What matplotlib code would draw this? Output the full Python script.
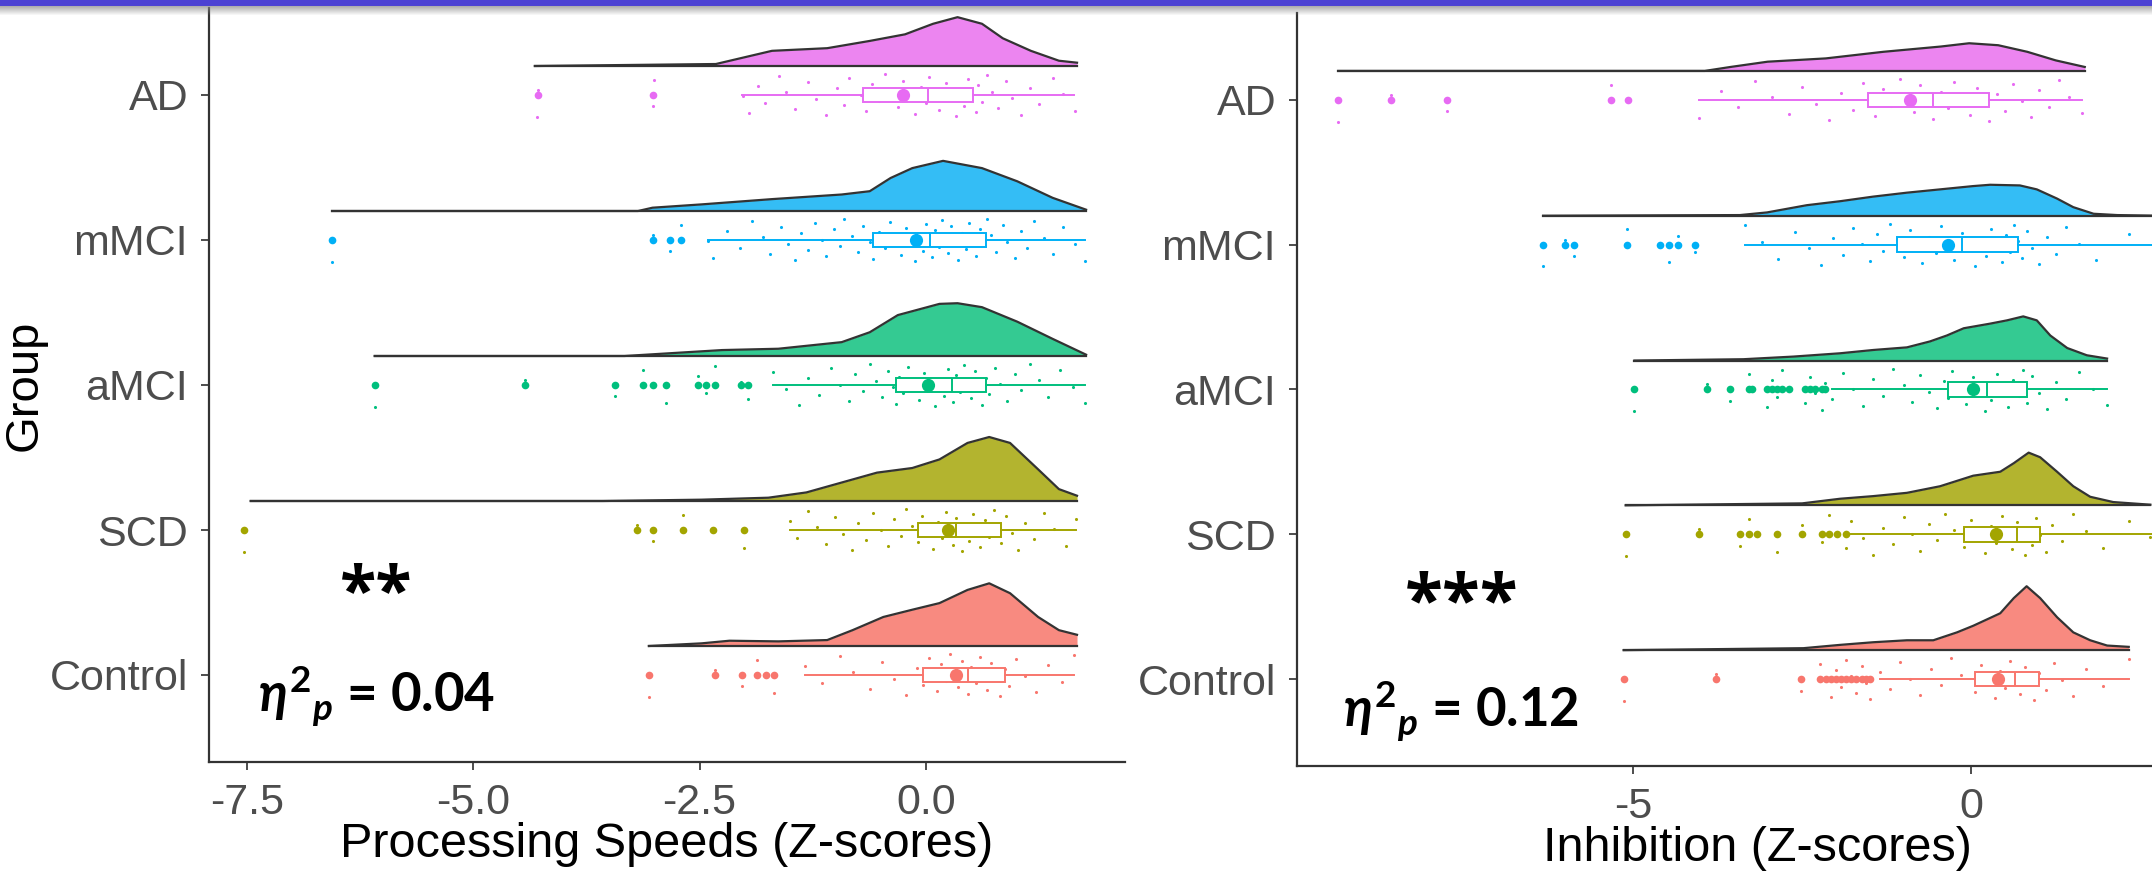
import matplotlib
matplotlib.use("Agg")
import matplotlib.pyplot as plt
import numpy as np

plt.rcParams['font.family'] = ['Liberation Sans', 'DejaVu Sans']
plt.rcParams['mathtext.fontset'] = 'custom'
plt.rcParams['mathtext.it'] = 'Lato:italic:bold'
plt.rcParams['mathtext.rm'] = 'Lato:bold'
plt.rcParams['mathtext.bf'] = 'Lato:bold'

groups = ['Control', 'SCD', 'aMCI', 'mMCI', 'AD']
colors = {'Control': '#F8766D', 'SCD': '#A3A500', 'aMCI': '#00BF7D',
          'mMCI': '#00B0F6', 'AD': '#E76BF3'}
fills = {'Control': '#F88A80', 'SCD': '#B3B42F', 'aMCI': '#34CA92',
         'mMCI': '#34BDF5', 'AD': '#EC85F0'}

# ---------------- Processing speed ----------------
ps_dens_x = {
    'AD': [-4.32, -2.32, -1.70, -1.09, -0.62, -0.23, 0.08, 0.35, 0.62, 0.85, 1.16, 1.47, 1.67],
    'mMCI': [-6.56, -3.18, -3.02, -2.48, -1.70, -0.93, -0.62, -0.39, -0.15, 0.19, 0.62, 1.01, 1.40, 1.77],
    'aMCI': [-6.09, -3.33, -2.25, -1.63, -0.93, -0.62, -0.31, 0.15, 0.35, 0.62, 1.01, 1.40, 1.77],
    'SCD': [-7.46, -3.57, -2.48, -1.74, -1.32, -0.93, -0.54, -0.15, 0.15, 0.46, 0.70, 0.93, 1.24, 1.47, 1.67],
    'Control': [-3.06, -2.48, -2.17, -1.63, -1.09, -0.81, -0.47, -0.15, 0.15, 0.46, 0.70, 0.93, 1.24, 1.47, 1.67],
}
ps_dens = {
    'AD': [0, 0.03, 0.23, 0.27, 0.38, 0.48, 0.64, 0.74, 0.64, 0.42, 0.23, 0.08, 0.05],
    'mMCI': [0, 0, 0.05, 0.10, 0.18, 0.25, 0.30, 0.50, 0.65, 0.76, 0.65, 0.45, 0.20, 0.02],
    'aMCI': [0, 0, 0.09, 0.11, 0.21, 0.36, 0.62, 0.79, 0.80, 0.74, 0.52, 0.26, 0.02],
    'SCD': [0, 0, 0.02, 0.05, 0.13, 0.28, 0.43, 0.50, 0.63, 0.88, 0.97, 0.88, 0.48, 0.18, 0.08],
    'Control': [0, 0.04, 0.08, 0.07, 0.09, 0.24, 0.44, 0.55, 0.65, 0.85, 0.95, 0.80, 0.44, 0.24, 0.17],
}
# whislo, q1, median, q3, whishi, mean
ps_box = {
    'AD': [-2.03, -0.69, 0.02, 0.52, 1.64, -0.25],
    'mMCI': [-2.41, -0.58, 0.05, 0.66, 1.76, -0.11],
    'aMCI': [-1.69, -0.33, 0.29, 0.66, 1.76, 0.02],
    'SCD': [-1.50, -0.09, 0.33, 0.83, 1.66, 0.24],
    'Control': [-1.34, -0.03, 0.46, 0.87, 1.64, 0.33],
}
ps_out = {
    'AD': [-4.29, -3.01],
    'mMCI': [-6.56, -3.02, -2.83, -2.70],
    'aMCI': [-6.09, -4.43, -3.43, -3.12, -3.02, -2.87, -2.52, -2.43, -2.33, -2.04, -1.97],
    'SCD': [-7.53, -3.19, -3.02, -2.68, -2.35, -2.01],
    'Control': [-3.06, -2.33, -2.03, -1.87, -1.77, -1.68],
}
ps_pts = {
    'AD': [-4.30, -4.28, -3.02, -3.00, -2.02, -1.95, -1.85, -1.78, -1.62, -1.55, -1.45, -1.30, -1.21,
           -1.10, -0.98, -0.90, -0.85, -0.72, -0.66, -0.60, -0.52, -0.45, -0.38, -0.31, -0.25, -0.18,
           -0.12, -0.05, 0.00, 0.04, 0.10, 0.15, 0.22, 0.28, 0.33, 0.38, 0.42, 0.46, 0.50, 0.55, 0.58,
           0.62, 0.68, 0.73, 0.80, 0.88, 0.95, 1.05, 1.15, 1.25, 1.40, 1.52, 1.65],
    'mMCI': [-6.56, -3.02, -2.83, -2.70, -2.41, -2.35, -2.20, -2.05, -1.92, -1.80, -1.72, -1.60, -1.52,
             -1.45, -1.38, -1.30, -1.22, -1.15, -1.10, -1.02, -0.95, -0.90, -0.82, -0.75, -0.70, -0.62,
             -0.58, -0.52, -0.45, -0.40, -0.33, -0.28, -0.22, -0.18, -0.12, -0.08, -0.03, 0.00, 0.03,
             0.07, 0.10, 0.14, 0.18, 0.22, 0.25, 0.28, 0.32, 0.35, 0.40, 0.44, 0.48, 0.52, 0.55, 0.60,
             0.64, 0.68, 0.72, 0.78, 0.85, 0.90, 0.98, 1.05, 1.12, 1.20, 1.30, 1.40, 1.52, 1.65, 1.76],
    'aMCI': [-6.09, -4.43, -3.43, -3.12, -3.02, -2.87, -2.52, -2.43, -2.33, -2.04, -1.97, -1.69, -1.55,
             -1.40, -1.30, -1.18, -1.05, -0.95, -0.85, -0.78, -0.70, -0.62, -0.55, -0.48, -0.42, -0.36,
             -0.33, -0.30, -0.25, -0.20, -0.14, -0.08, -0.02, 0.04, 0.10, 0.15, 0.20, 0.25, 0.28, 0.30,
             0.33, 0.38, 0.42, 0.46, 0.50, 0.54, 0.58, 0.62, 0.66, 0.70, 0.76, 0.82, 0.90, 0.98, 1.05,
             1.15, 1.25, 1.35, 1.48, 1.62, 1.76],
    'SCD': [-7.53, -3.19, -3.02, -2.68, -2.35, -2.01, -1.50, -1.42, -1.30, -1.20, -1.10, -1.00, -0.92,
            -0.82, -0.75, -0.66, -0.58, -0.50, -0.42, -0.35, -0.28, -0.22, -0.15, -0.09, -0.04, 0.02,
            0.08, 0.13, 0.18, 0.22, 0.26, 0.30, 0.33, 0.36, 0.40, 0.44, 0.48, 0.52, 0.56, 0.60, 0.65,
            0.70, 0.75, 0.80, 0.83, 0.88, 0.95, 1.02, 1.10, 1.20, 1.30, 1.42, 1.55, 1.66],
    'Control': [-3.06, -2.33, -2.03, -1.87, -1.77, -1.68, -1.34, -1.15, -0.95, -0.80, -0.62, -0.48,
                -0.35, -0.22, -0.10, -0.03, 0.03, 0.08, 0.12, 0.17, 0.22, 0.27, 0.32, 0.36, 0.40, 0.44,
                0.46, 0.50, 0.55, 0.60, 0.64, 0.68, 0.72, 0.77, 0.82, 0.87, 0.92, 1.00, 1.10, 1.22, 1.35,
                1.50, 1.64],
}

# ---------------- Inhibition ----------------
inh_dens_x = {
    'AD': [-9.36, -3.94, -3.56, -3.01, -2.15, -1.30, -0.45, -0.03, 0.40, 0.83, 1.25, 1.68],
    'mMCI': [-6.33, -3.42, -3.02, -2.43, -1.94, -1.45, -0.95, -0.46, 0.03, 0.28, 0.72, 0.97, 1.27, 1.51, 1.81, 2.16, 2.80],
    'aMCI': [-4.98, -3.37, -2.63, -1.94, -1.45, -0.95, -0.61, -0.36, -0.11, 0.28, 0.53, 0.77, 0.97, 1.17, 1.42, 1.71, 2.01],
    'SCD': [-5.11, -2.50, -1.94, -1.45, -0.95, -0.46, 0.03, 0.43, 0.63, 0.85, 1.02, 1.27, 1.51, 1.76, 2.10, 2.65],
    'Control': [-5.14, -2.48, -1.94, -1.45, -0.95, -0.56, -0.21, 0.03, 0.43, 0.63, 0.82, 1.02, 1.27, 1.51, 1.76, 2.01, 2.33],
}
inh_dens = {
    'AD': [0, 0, 0.06, 0.14, 0.19, 0.29, 0.37, 0.42, 0.39, 0.29, 0.16, 0.06],
    'mMCI': [0, 0.01, 0.05, 0.16, 0.22, 0.29, 0.35, 0.40, 0.45, 0.47, 0.46, 0.40, 0.26, 0.13, 0.03, 0.01, 0],
    'aMCI': [0, 0.02, 0.06, 0.11, 0.16, 0.20, 0.29, 0.38, 0.49, 0.56, 0.61, 0.67, 0.61, 0.38, 0.19, 0.08, 0.03],
    'SCD': [0, 0.03, 0.10, 0.14, 0.19, 0.29, 0.45, 0.51, 0.64, 0.80, 0.73, 0.51, 0.29, 0.13, 0.05, 0.01],
    'Control': [0, 0.03, 0.08, 0.12, 0.15, 0.15, 0.27, 0.37, 0.56, 0.79, 0.97, 0.79, 0.50, 0.27, 0.15, 0.07, 0.05],
}
inh_box = {
    'AD': [-4.02, -1.53, -0.56, 0.27, 1.64, -0.90],
    'mMCI': [-3.34, -1.09, -0.14, 0.69, 2.80, -0.34],
    'aMCI': [-2.06, -0.35, 0.23, 0.83, 2.01, 0.03],
    'SCD': [-1.77, -0.11, 0.68, 1.02, 2.70, 0.37],
    'Control': [-1.35, 0.06, 0.65, 1.00, 2.33, 0.40],
}
inh_out = {
    'AD': [-9.36, -8.58, -7.75, -5.32, -5.07],
    'mMCI': [-6.33, -6.00, -5.87, -5.09, -4.60, -4.47, -4.33, -4.09],
    'aMCI': [-4.98, -3.90, -3.57, -3.29, -3.24, -3.02, -2.95, -2.87, -2.80, -2.70, -2.46, -2.38, -2.31,
             -2.21, -2.16],
    'SCD': [-5.11, -4.03, -3.42, -3.29, -3.17, -2.87, -2.50, -2.21, -2.11, -1.99, -1.85],
    'Control': [-5.14, -3.77, -2.51, -2.23, -2.15, -2.08, -2.00, -1.92, -1.85, -1.77, -1.70, -1.62,
                -1.55, -1.49],
}
inh_pts = {
    'AD': [-9.36, -8.58, -7.75, -5.32, -5.07, -4.02, -3.70, -3.45, -3.20, -2.95, -2.70, -2.50, -2.30,
           -2.10, -1.92, -1.75, -1.60, -1.53, -1.42, -1.30, -1.18, -1.05, -0.95, -0.85, -0.75, -0.66,
           -0.56, -0.45, -0.35, -0.25, -0.12, -0.02, 0.08, 0.18, 0.27, 0.38, 0.50, 0.62, 0.75, 0.88,
           1.00, 1.15, 1.30, 1.45, 1.64],
    'mMCI': [-6.33, -6.00, -5.87, -5.09, -4.60, -4.47, -4.33, -4.09, -3.34, -3.10, -2.85, -2.60, -2.40,
             -2.22, -2.05, -1.90, -1.75, -1.62, -1.50, -1.40, -1.30, -1.20, -1.09, -1.00, -0.90, -0.80,
             -0.72, -0.62, -0.52, -0.44, -0.35, -0.25, -0.14, -0.05, 0.05, 0.15, 0.22, 0.30, 0.38, 0.45,
             0.52, 0.58, 0.64, 0.69, 0.75, 0.82, 0.90, 1.00, 1.12, 1.25, 1.40, 1.60, 1.85, 2.33, 2.80],
    'aMCI': [-4.98, -3.90, -3.57, -3.29, -3.24, -3.02, -2.95, -2.87, -2.80, -2.70, -2.46, -2.38, -2.31,
             -2.21, -2.16, -2.06, -1.90, -1.75, -1.60, -1.45, -1.30, -1.15, -1.00, -0.88, -0.75, -0.62,
             -0.50, -0.40, -0.35, -0.28, -0.18, -0.08, 0.03, 0.12, 0.20, 0.23, 0.30, 0.38, 0.46, 0.55,
             0.62, 0.70, 0.76, 0.80, 0.83, 0.90, 1.00, 1.12, 1.25, 1.40, 1.60, 1.80, 2.01],
    'SCD': [-5.11, -4.03, -3.42, -3.29, -3.17, -2.87, -2.50, -2.21, -2.11, -1.99, -1.85, -1.77, -1.60,
            -1.45, -1.30, -1.15, -1.00, -0.88, -0.75, -0.62, -0.50, -0.38, -0.25, -0.11, 0.00, 0.10,
            0.20, 0.30, 0.37, 0.45, 0.52, 0.60, 0.68, 0.74, 0.80, 0.85, 0.90, 0.96, 1.02, 1.10, 1.20,
            1.35, 1.50, 1.70, 1.95, 2.33, 2.65],
    'Control': [-5.14, -3.77, -2.51, -2.23, -2.15, -2.08, -2.00, -1.92, -1.85, -1.77, -1.70, -1.62,
                -1.55, -1.49, -1.35, -1.20, -1.05, -0.90, -0.75, -0.60, -0.45, -0.30, -0.15, 0.06, 0.15,
                0.25, 0.35, 0.42, 0.50, 0.58, 0.65, 0.72, 0.80, 0.87, 0.93, 1.00, 1.10, 1.22, 1.35, 1.50,
                1.70, 1.95, 2.33],
}


def raincloud(ax, dens_x, dens, box, out, pts):
    for i, g in enumerate(groups):
        pos = i + 1
        base = pos + 0.2
        xs = np.array(dens_x[g])
        top = base + np.array(dens[g]) * 0.455
        ax.fill_between(xs, base, top, color=fills[g], lw=0, zorder=2)
        ax.plot(xs, top, color='#333333', lw=1.6, zorder=3)
        ax.plot([xs[0], xs[-1]], [base, base], color='#333333', lw=1.6, zorder=3)

        # rain (jittered points)
        p = np.array(pts[g])
        k = np.arange(len(p))
        jit = ((k * 0.618034) % 1.0 * 2 - 1) * 0.15
        ax.scatter(p, pos + jit, s=5, color=colors[g], lw=0, zorder=4)

        lo, q1, med, q3, hi, mean = box[g]
        stats = [dict(whislo=lo, q1=q1, med=med, q3=q3, whishi=hi, fliers=[])]
        ax.bxp(stats, positions=[pos], widths=0.1, vert=False, patch_artist=True,
               showcaps=False, manage_ticks=False,
               boxprops=dict(facecolor='white', edgecolor=colors[g], lw=1.4),
               whiskerprops=dict(color=colors[g], lw=1.4),
               medianprops=dict(color=colors[g], lw=1.4), zorder=5)
        ax.plot(out[g], [pos] * len(out[g]), 'o', ms=5.5, color=colors[g], mew=0, zorder=6)
        ax.plot([mean], [pos], 'o', ms=9.5, color=colors[g], mew=0, zorder=7)


def style(ax, xlabel, ticks):
    for s in ['top', 'right']:
        ax.spines[s].set_visible(False)
    for s in ['left', 'bottom']:
        ax.spines[s].set_linewidth(1.6)
        ax.spines[s].set_color('#333333')
    ax.set_ylim(0.4, 5.6)
    ax.set_yticks(range(1, 6))
    ax.set_yticklabels(groups)
    ax.set_xticks(ticks)
    ax.tick_params(labelsize=31, colors='#4D4D4D', length=6, width=1.4, pad=9)
    ax.set_xlabel(xlabel, fontsize=35, color='black')


fig = plt.figure(figsize=(21.52, 8.84), dpi=100)

ax1 = fig.add_axes([209 / 2152, 122 / 884, 916 / 2152, 754 / 884])
raincloud(ax1, ps_dens_x, ps_dens, ps_box, ps_out, ps_pts)
style(ax1, 'Processing Speeds (Z-scores)', [-7.5, -5.0, -2.5, 0.0])
ax1.set_xticklabels(['-7.5', '-5.0', '-2.5', '0.0'])
ax1.set_xlim(-7.92, 2.20)
ax1.set_ylabel('Group', fontsize=34, color='black')
ax1.yaxis.set_label_coords(-0.177, 0.5)
ax1.xaxis.set_label_coords(0.5, -0.08)
ax1.text(-6.07, 1.545, '**', fontsize=48, fontweight='bold', family=['Open Sans', 'DejaVu Sans'],
         ha='center', va='center')
ax1.text(-7.38, 0.75, r'$\eta^{2}{}_{p}$ = 0.04', fontsize=38, fontweight='bold',
         family=['Lato', 'DejaVu Sans'], ha='left', va='baseline')

ax2 = fig.add_axes([1297 / 2152, 118 / 884, 921 / 2152, 753 / 884])
raincloud(ax2, inh_dens_x, inh_dens, inh_box, inh_out, inh_pts)
style(ax2, 'Inhibition (Z-scores)', [-5, 0])
ax2.set_xticklabels(['-5', '0'])
ax2.set_xlim(-9.97, 3.65)
ax2.xaxis.set_label_coords(0.5, -0.08)
ax2.text(-7.53, 1.51, '***', fontsize=50, fontweight='bold', family=['Open Sans', 'DejaVu Sans'],
         ha='center', va='center')
ax2.text(-9.29, 0.67, r'$\eta^{2}{}_{p}$ = 0.12', fontsize=38, fontweight='bold',
         family=['Lato', 'DejaVu Sans'], ha='left', va='baseline')

# slide header strip at the top
band = fig.add_axes([0, 1 - 16 / 884, 1, 16 / 884])
rows = np.ones((16, 1, 4))
rows[:6, 0, :3] = [0.30, 0.26, 0.83]
rows[6:, 0, :3] = 0.55
rows[6:, 0, 3] = np.linspace(0.7, 0.0, 10)
band.imshow(rows, aspect='auto', extent=[0, 1, 0, 1], interpolation='bilinear')
band.axis('off')

fig.savefig('out.png', dpi=100)
